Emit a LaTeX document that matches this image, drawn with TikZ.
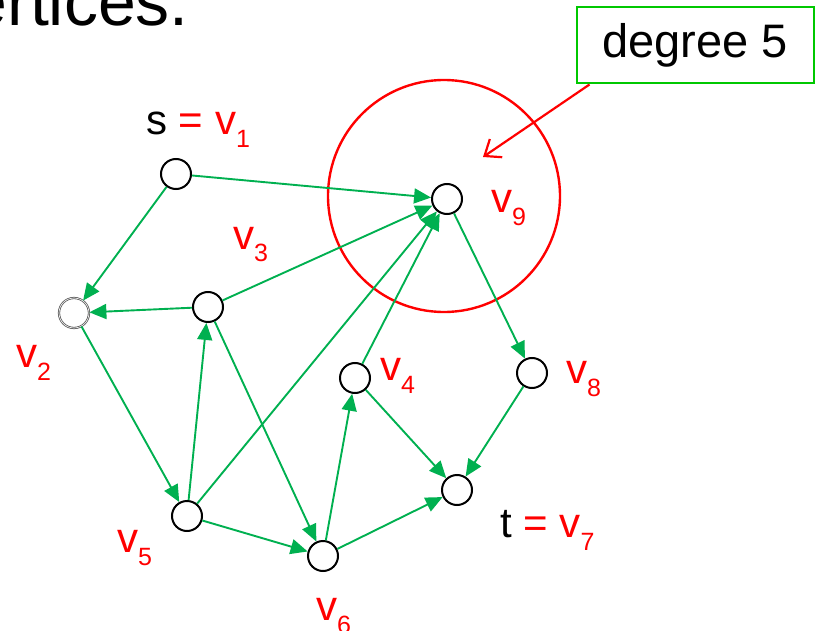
\documentclass[tikz,border=0pt]{standalone}
\usepackage{fontspec}
\setmainfont{Liberation Sans}
\usetikzlibrary{arrows.meta}

\definecolor{edgegreen}{RGB}{0,176,80}
\definecolor{boxgreen}{RGB}{0,200,0}
\newcommand{\vlab}[1]{v\raisebox{-13pt}{\fontsize{25}{25}\selectfont #1}}

\begin{document}
\begin{tikzpicture}[x=1pt, y=-1pt,
        vertex/.style={draw, circle, line width=2pt, minimum size=30pt, inner sep=0pt},
        edge/.style={-{Triangle[length=17pt, width=15pt]}, edgegreen, line width=1.9pt},
        lab/.style={anchor=base west, inner sep=0pt, text=red, font=\fontsize{42}{42}\selectfont}
    ]
    \useasboundingbox (0,0) rectangle (819,631);
    \clip (0,0) rectangle (819,631);

    \node[anchor=base east, inner sep=0pt, font=\fontsize{68}{68}\selectfont] (title) at (189,26) {ertices.};

    % highlight round v9
    \node[draw=red, circle, line width=2.4pt, minimum size=232pt, inner sep=0pt] (ring) at (444,196) {};
    \node[draw=boxgreen, line width=2pt, minimum width=237pt, minimum height=76pt, inner sep=0pt,
          font=\fontsize{47}{47}\selectfont] (deg) at (695,45.5) {degree 5};
    \coordinate (ringtip) at (483,157);
    \draw[red, line width=2.2pt, -{Straight Barb[length=14pt, width=22pt]}]
        ([xshift=14pt]deg.south west) -- (ringtip);

    % vertices
    \node[vertex] (v1) at (176,174) {};
    \node[vertex, draw=gray!70!black, line width=0.8pt, double=white, double distance=0.6pt] (v2) at (74,313) {};
    \node[vertex] (v3) at (208,307) {};
    \node[vertex] (v4) at (355,378) {};
    \node[vertex] (v5) at (187,516) {};
    \node[vertex] (v6) at (323,556) {};
    \node[vertex] (v7) at (457,490) {};
    \node[vertex] (v8) at (532,373) {};
    \node[vertex] (v9) at (447,199) {};

    % labels
    \node[lab, text=black] (l1) at (146,135) {s \textcolor{red}{= \vlab{1}}};
    \node[lab] (l2) at (16,367) {\vlab{2}};
    \node[lab] (l3) at (233,249) {\vlab{3}};
    \node[lab] (l4) at (380,380) {\vlab{4}};
    \node[lab] (l5) at (117,552) {\vlab{5}};
    \node[lab] (l6) at (316,620) {\vlab{6}};
    \node[lab, text=black] (l7) at (500,537) {t \textcolor{red}{= \vlab{7}}};
    \node[lab] (l8) at (566,383) {\vlab{8}};
    \node[lab] (l9) at (491,213) {\vlab{9}};

    % edges
    \draw[edge] (v1) -- (v9);
    \draw[edge] (v1) -- (v2);
    \draw[edge] (v3) -- (v2);
    \draw[edge] (v3) -- (v9);
    \draw[edge] (v3) -- (v6);
    \draw[edge] (v2) -- (v5);
    \draw[edge] (v5) -- (v3);
    \draw[edge] (v5) -- (v9);
    \draw[edge] (v5) -- (v6);
    \draw[edge] (v6) -- (v4);
    \draw[edge] (v6) -- (v7);
    \draw[edge] (v4) -- (v9);
    \draw[edge] (v4) -- (v7);
    \draw[edge] (v9) -- (v8);
    \draw[edge] (v8) -- (v7);
\end{tikzpicture}
\end{document}
